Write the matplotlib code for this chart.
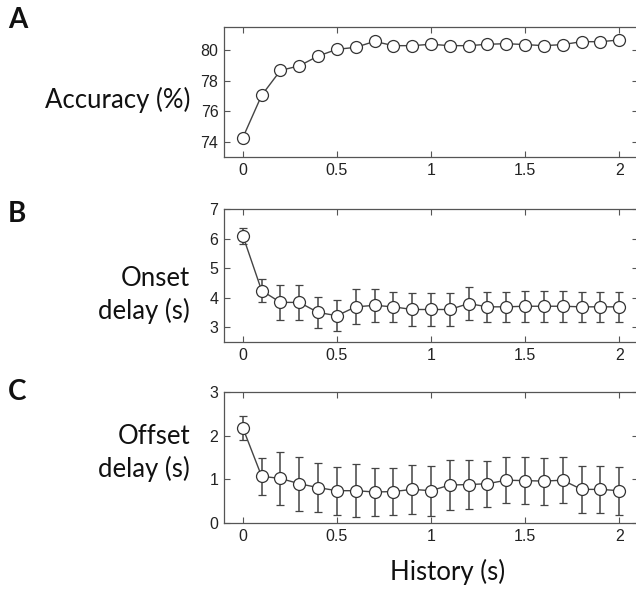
import matplotlib.pyplot as plt

history = [0.0, 0.1, 0.2, 0.3, 0.4, 0.5, 0.6, 0.7, 0.8, 0.9, 1.0,
           1.1, 1.2, 1.3, 1.4, 1.5, 1.6, 1.7, 1.8, 1.9, 2.0]

accuracy = [74.26, 77.03, 78.66, 78.96, 79.6, 80.04, 80.17, 80.56, 80.28, 80.28, 80.37,
            80.28, 80.28, 80.37, 80.41, 80.35, 80.28, 80.35, 80.54, 80.54, 80.65]

onset = [6.10, 4.24, 3.84, 3.84, 3.50, 3.39, 3.69, 3.74, 3.69, 3.60, 3.60,
         3.60, 3.80, 3.69, 3.69, 3.71, 3.71, 3.71, 3.69, 3.69, 3.69]
onset_err = [0.27, 0.40, 0.60, 0.60, 0.53, 0.52, 0.59, 0.55, 0.50, 0.55, 0.55,
             0.56, 0.57, 0.50, 0.50, 0.52, 0.52, 0.52, 0.50, 0.50, 0.50]

offset = [2.18, 1.07, 1.02, 0.90, 0.81, 0.74, 0.74, 0.71, 0.72, 0.77, 0.74,
          0.87, 0.88, 0.90, 0.98, 0.97, 0.96, 0.98, 0.77, 0.77, 0.74]
offset_err = [0.27, 0.43, 0.60, 0.62, 0.56, 0.55, 0.60, 0.55, 0.53, 0.56, 0.57,
              0.57, 0.57, 0.53, 0.53, 0.54, 0.54, 0.53, 0.53, 0.53, 0.55]

x_ticks = [0, 0.5, 1, 1.5, 2]
x_tick_labels = ["0", "0.5", "1", "1.5", "2"]

W, H = 636, 590
fig = plt.figure(figsize=(W / 100, H / 100), dpi=100)

label_font = ["Lato", "DejaVu Sans"]
tick_font = ["Liberation Sans", "DejaVu Sans"]


def make_axes(top, bottom):
    left, right = 224, 638
    return fig.add_axes([left / W, 1 - bottom / H, (right - left) / W, (bottom - top) / H])


def style_axes(ax, ylim, yticks):
    ax.set_xlim(-0.1, 2.1)
    ax.set_ylim(*ylim)
    ax.set_xticks(x_ticks)
    ax.set_xticklabels(x_tick_labels)
    ax.set_yticks(yticks)
    ax.tick_params(direction="in", top=True, right=True, length=4, width=0.8,
                   color="#555555", labelsize=11.5, pad=4, labelcolor="#222222")
    for lab in ax.get_xticklabels() + ax.get_yticklabels():
        lab.set_family(tick_font)
    for sp in ax.spines.values():
        sp.set_color("#555555")
        sp.set_linewidth(0.9)


marker_kw = dict(marker="o", markersize=8.6, markerfacecolor="white",
                 markeredgecolor="#333333", markeredgewidth=0.9,
                 color="#444444", linewidth=1.0)
err_kw = dict(ecolor="#444444", elinewidth=1.1, capsize=3.2, capthick=1.1)

# A: accuracy
ax_a = make_axes(27, 157)
ax_a.plot(history, accuracy, **marker_kw)
style_axes(ax_a, (73, 81.5), [74, 76, 78, 80])

# B: onset delay
ax_b = make_axes(209, 342)
ax_b.errorbar(history, onset, yerr=onset_err, **marker_kw, **err_kw)
style_axes(ax_b, (2.5, 7), [3, 4, 5, 6, 7])

# C: offset delay
ax_c = make_axes(392, 523)
ax_c.errorbar(history, offset, yerr=offset_err, **marker_kw, **err_kw)
style_axes(ax_c, (0, 3), [0, 1, 2, 3])

# axis labels and panel letters
label_kw = dict(fontsize=18.5, family=label_font, color="#111111")
fig.text(190 / W, 1 - 100 / H, "Accuracy (%)", ha="right", va="center", **label_kw)
fig.text(190 / W, 1 - 295 / H, "Onset\ndelay (s)", ha="right", va="center",
         linespacing=1.35, **label_kw)
fig.text(190 / W, 1 - 453 / H, "Offset\ndelay (s)", ha="right", va="center",
         linespacing=1.3, **label_kw)
fig.text(448 / W, 1 - 572 / H, "History (s)", ha="center", va="center", **label_kw)

for letter, y in [("A", 20), ("B", 214), ("C", 392)]:
    fig.text(8 / W, 1 - y / H, letter, ha="left", va="center", fontsize=20,
             fontweight="bold", family=label_font, color="#111111")

fig.savefig("out.png", dpi=100)
